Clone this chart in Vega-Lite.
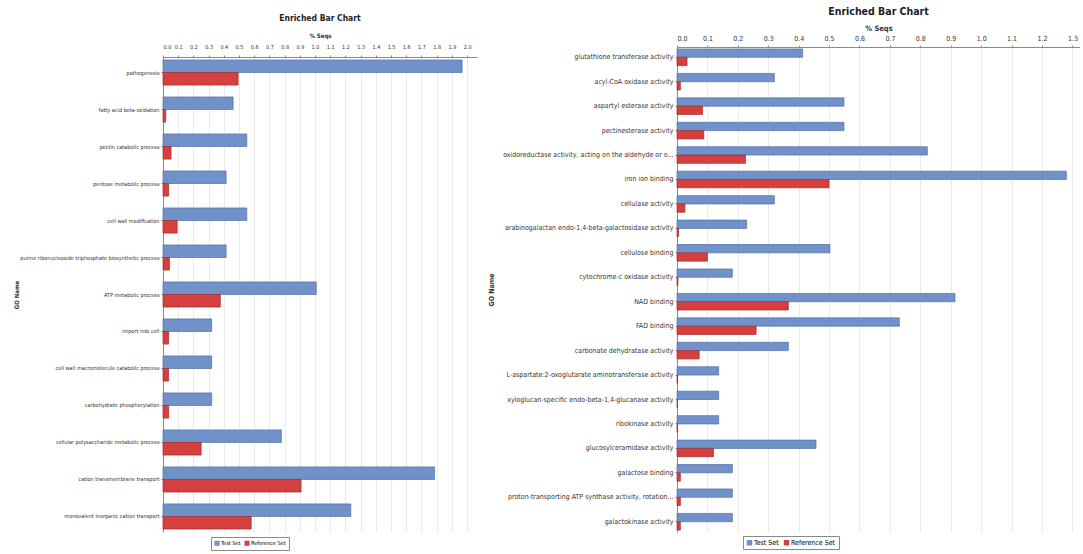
{
  "$schema": "https://vega.github.io/schema/vega-lite/v6.json",
  "background": "white",
  "padding": {"left": 13, "top": 6, "right": 0, "bottom": 0},
  "spacing": 10,
  "config": {
    "view": {"stroke": null},
    "axis": {
      "gridColor": "#e4e4e4",
      "gridWidth": 0.8,
      "domainColor": "#8a8a8a",
      "tickColor": "#8a8a8a",
      "tickSize": 2,
      "labelColor": "#333333",
      "titleColor": "#333333",
      "labelFont": "Liberation Sans Narrow, DejaVu Sans Condensed, Liberation Sans",
      "titleFont": "Liberation Sans Narrow, DejaVu Sans Condensed, Liberation Sans"
    },
    "title": {"font": "Liberation Sans Narrow, DejaVu Sans Condensed, Liberation Sans", "color": "#222222", "fontWeight": "bold"},
    "legend": {"labelFont": "Liberation Sans Narrow, DejaVu Sans Condensed, Liberation Sans"}
  },
  "datasets": {
    "left": [
      {"go": "pathogenesis", "set": "Test Set", "value": 1.967},
      {"go": "pathogenesis", "set": "Reference Set", "value": 0.494},
      {"go": "fatty acid beta-oxidation", "set": "Test Set", "value": 0.461},
      {"go": "fatty acid beta-oxidation", "set": "Reference Set", "value": 0.018},
      {"go": "pectin catabolic process", "set": "Test Set", "value": 0.551},
      {"go": "pectin catabolic process", "set": "Reference Set", "value": 0.053},
      {"go": "pentose metabolic process", "set": "Test Set", "value": 0.415},
      {"go": "pentose metabolic process", "set": "Reference Set", "value": 0.037},
      {"go": "cell wall modification", "set": "Test Set", "value": 0.551},
      {"go": "cell wall modification", "set": "Reference Set", "value": 0.093},
      {"go": "purine ribonucleoside triphosphate biosynthetic process", "set": "Test Set", "value": 0.415},
      {"go": "purine ribonucleoside triphosphate biosynthetic process", "set": "Reference Set", "value": 0.042},
      {"go": "ATP metabolic process", "set": "Test Set", "value": 1.008},
      {"go": "ATP metabolic process", "set": "Reference Set", "value": 0.377},
      {"go": "import into cell", "set": "Test Set", "value": 0.32},
      {"go": "import into cell", "set": "Reference Set", "value": 0.037},
      {"go": "cell wall macromolecule catabolic process", "set": "Test Set", "value": 0.32},
      {"go": "cell wall macromolecule catabolic process", "set": "Reference Set", "value": 0.037},
      {"go": "carbohydrate phosphorylation", "set": "Test Set", "value": 0.32},
      {"go": "carbohydrate phosphorylation", "set": "Reference Set", "value": 0.037},
      {"go": "cellular polysaccharide metabolic process", "set": "Test Set", "value": 0.778},
      {"go": "cellular polysaccharide metabolic process", "set": "Reference Set", "value": 0.251},
      {"go": "cation transmembrane transport", "set": "Test Set", "value": 1.786},
      {"go": "cation transmembrane transport", "set": "Reference Set", "value": 0.908},
      {"go": "monovalent inorganic cation transport", "set": "Test Set", "value": 1.235},
      {"go": "monovalent inorganic cation transport", "set": "Reference Set", "value": 0.58}
    ],
    "right": [
      {"go": "glutathione transferase activity", "set": "Test Set", "value": 0.413},
      {"go": "glutathione transferase activity", "set": "Reference Set", "value": 0.033},
      {"go": "acyl-CoA oxidase activity", "set": "Test Set", "value": 0.32},
      {"go": "acyl-CoA oxidase activity", "set": "Reference Set", "value": 0.011},
      {"go": "aspartyl esterase activity", "set": "Test Set", "value": 0.549},
      {"go": "aspartyl esterase activity", "set": "Reference Set", "value": 0.084},
      {"go": "pectinesterase activity", "set": "Test Set", "value": 0.549},
      {"go": "pectinesterase activity", "set": "Reference Set", "value": 0.088},
      {"go": "oxidoreductase activity, acting on the aldehyde or o...", "set": "Test Set", "value": 0.823},
      {"go": "oxidoreductase activity, acting on the aldehyde or o...", "set": "Reference Set", "value": 0.225},
      {"go": "iron ion binding", "set": "Test Set", "value": 1.28},
      {"go": "iron ion binding", "set": "Reference Set", "value": 0.5},
      {"go": "cellulase activity", "set": "Test Set", "value": 0.32},
      {"go": "cellulase activity", "set": "Reference Set", "value": 0.026},
      {"go": "arabinogalactan endo-1,4-beta-galactosidase activity", "set": "Test Set", "value": 0.229},
      {"go": "arabinogalactan endo-1,4-beta-galactosidase activity", "set": "Reference Set", "value": 0.005},
      {"go": "cellulose binding", "set": "Test Set", "value": 0.503},
      {"go": "cellulose binding", "set": "Reference Set", "value": 0.1},
      {"go": "cytochrome-c oxidase activity", "set": "Test Set", "value": 0.182},
      {"go": "cytochrome-c oxidase activity", "set": "Reference Set", "value": 0.003},
      {"go": "NAD binding", "set": "Test Set", "value": 0.914},
      {"go": "NAD binding", "set": "Reference Set", "value": 0.366},
      {"go": "FAD binding", "set": "Test Set", "value": 0.731},
      {"go": "FAD binding", "set": "Reference Set", "value": 0.26},
      {"go": "carbonate dehydratase activity", "set": "Test Set", "value": 0.366},
      {"go": "carbonate dehydratase activity", "set": "Reference Set", "value": 0.073},
      {"go": "L-aspartate:2-oxoglutarate aminotransferase activity", "set": "Test Set", "value": 0.137},
      {"go": "L-aspartate:2-oxoglutarate aminotransferase activity", "set": "Reference Set", "value": 0.002},
      {"go": "xyloglucan-specific endo-beta-1,4-glucanase activity", "set": "Test Set", "value": 0.137},
      {"go": "xyloglucan-specific endo-beta-1,4-glucanase activity", "set": "Reference Set", "value": 0.002},
      {"go": "ribokinase activity", "set": "Test Set", "value": 0.137},
      {"go": "ribokinase activity", "set": "Reference Set", "value": 0.002},
      {"go": "glucosylceramidase activity", "set": "Test Set", "value": 0.457},
      {"go": "glucosylceramidase activity", "set": "Reference Set", "value": 0.12},
      {"go": "galactose binding", "set": "Test Set", "value": 0.182},
      {"go": "galactose binding", "set": "Reference Set", "value": 0.011},
      {"go": "proton-transporting ATP synthase activity, rotation...", "set": "Test Set", "value": 0.182},
      {"go": "proton-transporting ATP synthase activity, rotation...", "set": "Reference Set", "value": 0.011},
      {"go": "galactokinase activity", "set": "Test Set", "value": 0.182},
      {"go": "galactokinase activity", "set": "Reference Set", "value": 0.011}
    ]
  },
  "resolve": {"scale": {"x": "independent", "y": "independent", "color": "independent", "stroke": "independent", "yOffset": "independent"}, "legend": {"color": "independent"}},
  "hconcat": [
    {
      "data": {"name": "left"},
      "width": 314,
      "height": 485,
      "title": {"text": "Enriched Bar Chart", "fontSize": 8.5, "offset": 10},
      "mark": {"type": "bar", "strokeWidth": 0.7},
      "encoding": {
        "y": {
          "field": "go", "type": "nominal", "sort": null,
          "scale": {"range": [10, 485], "paddingInner": 0.32, "paddingOuter": 0.08},
          "axis": {"title": "GO Name", "titleFontSize": 6, "titleX": -144, "labelFontSize": 5.5, "labelLimit": 300, "labelPadding": 2, "grid": false}
        },
        "yOffset": {"field": "set", "type": "nominal", "sort": ["Test Set", "Reference Set"]},
        "x": {
          "field": "value", "type": "quantitative",
          "scale": {"domain": [0, 2.065], "nice": false, "zero": true},
          "axis": {"orient": "top", "title": "% Seqs", "titleFontSize": 6, "titlePadding": 6, "labelFontSize": 5.5, "labelPadding": 6, "offset": -10,
                   "values": [0, 0.1, 0.2, 0.3, 0.4, 0.5, 0.6, 0.7, 0.8, 0.9, 1.0, 1.1, 1.2, 1.3, 1.4, 1.5, 1.6, 1.7, 1.8, 1.9, 2.0], "format": ".1f", "labelOverlap": false}
        },
        "color": {
          "field": "set", "type": "nominal",
          "scale": {"domain": ["Test Set", "Reference Set"], "range": ["#7192c9", "#d5403f"]},
          "legend": {"title": null, "orient": "none", "legendX": 48, "legendY": 490, "direction": "horizontal", "symbolType": "square", "symbolSize": 26, "labelFontSize": 5.5, "columnPadding": 3, "labelOffset": 1, "padding": 3, "strokeColor": "#8a8a8a", "fillColor": "white", "symbolStrokeWidth": 0}
        },
        "stroke": {
          "field": "set", "type": "nominal",
          "scale": {"domain": ["Test Set", "Reference Set"], "range": ["#4f6ea6", "#a62a2a"]},
          "legend": null
        }
      }
    },
    {
      "data": {"name": "right"},
      "width": 403,
      "height": 485,
      "title": {"text": "Enriched Bar Chart", "fontSize": 10.5, "offset": 7},
      "mark": {"type": "bar", "strokeWidth": 0.7},
      "encoding": {
        "y": {
          "field": "go", "type": "nominal", "sort": null,
          "scale": {"paddingInner": 0.32, "paddingOuter": 0.08},
          "axis": {"title": "GO Name", "titleFontSize": 7, "titleX": -183, "labelFontSize": 7, "labelLimit": 300, "labelPadding": 2, "grid": false}
        },
        "yOffset": {"field": "set", "type": "nominal", "sort": ["Test Set", "Reference Set"]},
        "x": {
          "field": "value", "type": "quantitative",
          "scale": {"domain": [0, 1.325], "nice": false, "zero": true},
          "axis": {"orient": "top", "title": "% Seqs", "titleFontSize": 7.5, "titlePadding": 2, "labelFontSize": 7, "labelPadding": 4,
                   "values": [0, 0.1, 0.2, 0.3, 0.4, 0.5, 0.6, 0.7, 0.8, 0.9, 1.0, 1.1, 1.2, 1.3], "format": ".1f", "labelOverlap": false}
        },
        "color": {
          "field": "set", "type": "nominal",
          "scale": {"domain": ["Test Set", "Reference Set"], "range": ["#7192c9", "#d5403f"]},
          "legend": {"title": null, "orient": "none", "legendX": 66, "legendY": 489, "direction": "horizontal", "symbolType": "square", "symbolSize": 30, "labelFontSize": 7, "columnPadding": 4, "labelOffset": 1, "padding": 3, "strokeColor": "#8a8a8a", "fillColor": "white", "symbolStrokeWidth": 0}
        },
        "stroke": {
          "field": "set", "type": "nominal",
          "scale": {"domain": ["Test Set", "Reference Set"], "range": ["#4f6ea6", "#a62a2a"]},
          "legend": null
        }
      }
    }
  ]
}
